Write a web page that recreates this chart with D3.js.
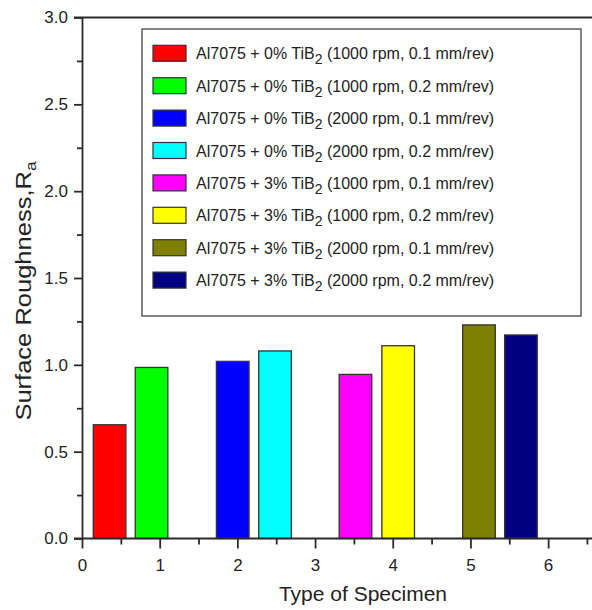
<!DOCTYPE html>
<html lang="en">
<head>
<meta charset="UTF-8">
<title>Surface Roughness bar chart</title>
<style>
  html, body { margin: 0; padding: 0; background: #fff; }
  svg { display: block; font-family: "Liberation Sans", Arial, sans-serif; }
  .axis path, .axis line { stroke: #2b2b2b; stroke-width: 1.8; }
  .axis text { fill: #222; font-size: 17px; }
</style>
</head>
<body>
<svg></svg>
<script src="https://cdn.jsdelivr.net/npm/d3@7"></script>
<script>
// series: TiB2 %, speed, feed
const labels = [
  ["0%", "1000 rpm, 0.1 mm/rev"],
  ["0%", "1000 rpm, 0.2 mm/rev"],
  ["0%", "2000 rpm, 0.1 mm/rev"],
  ["0%", "2000 rpm, 0.2 mm/rev"],
  ["3%", "1000 rpm, 0.1 mm/rev"],
  ["3%", "1000 rpm, 0.2 mm/rev"],
  ["3%", "2000 rpm, 0.1 mm/rev"],
  ["3%", "2000 rpm, 0.2 mm/rev"]
];
// x value (type of specimen) of each bar and its roughness Ra
const xValues = [0.355, 0.895, 1.94, 2.485, 3.52, 4.07, 5.11, 5.65];
const raValues = [0.655, 0.985, 1.02, 1.08, 0.945, 1.11, 1.23, 1.172];
const colors = ["#ff0000", "#00ff00", "#0000ff", "#00ffff", "#ff00ff", "#ffff00", "#808000", "#000080"];
const xTicks = [0, 1, 2, 3, 4, 5, 6];
const yTicks = [0, 0.5, 1.0, 1.5, 2.0, 2.5, 3.0];

const width = 592, height = 610;
const svg = d3.select("svg").attr("width", width).attr("height", height);

const x = d3.scaleLinear().domain([0, 6.565]).range([82, 592]);
const y = d3.scaleLinear().domain([0, 3]).range([538.5, 17.5]);
const barW = 0.42;

// top frame line
svg.append("line")
  .attr("x1", x(0) - 8).attr("x2", width)
  .attr("y1", y(3)).attr("y2", y(3))
  .attr("stroke", "#2b2b2b").attr("stroke-width", 1.8);

// bars
svg.append("g").selectAll("rect")
  .data(raValues)
  .join("rect")
  .attr("x", (d, i) => x(xValues[i] - barW / 2))
  .attr("width", (d, i) => x(xValues[i] + barW / 2) - x(xValues[i] - barW / 2))
  .attr("y", d => y(d))
  .attr("height", d => y(0) - y(d))
  .attr("fill", (d, i) => colors[i])
  .attr("stroke", "#333")
  .attr("stroke-width", 1.3);

// minor ticks
svg.append("g").attr("class", "axis")
  .attr("transform", `translate(${x(0)},0)`)
  .call(d3.axisLeft(y).tickValues(d3.range(0.25, 3, 0.5)).tickSize(5).tickFormat(""))
  .call(g => g.select(".domain").remove());
svg.append("g").attr("class", "axis")
  .attr("transform", `translate(0,${y(0)})`)
  .call(d3.axisBottom(x).tickValues(d3.range(0.5, 7, 1)).tickSize(6).tickFormat(""))
  .call(g => g.select(".domain").remove());

// major axes
svg.append("g").attr("class", "axis")
  .attr("transform", `translate(${x(0)},0)`)
  .call(d3.axisLeft(y).tickValues(yTicks).tickSize(8).tickSizeOuter(0).tickPadding(6).tickFormat(d3.format(".1f")));
svg.append("g").attr("class", "axis")
  .attr("transform", `translate(0,${y(0)})`)
  .call(d3.axisBottom(x).tickValues(xTicks).tickSize(10).tickSizeOuter(0).tickPadding(10).tickFormat(d3.format("d")))
  .call(g => g.select(".domain").attr("d", `M${x(0) - 8},0H${width}`));

// axis titles
svg.append("text")
  .attr("x", 363).attr("y", 601)
  .attr("text-anchor", "middle")
  .attr("font-size", 21).attr("fill", "#222")
  .text("Type of Specimen");

const yt = svg.append("text")
  .attr("transform", "translate(31,291) rotate(-90) scale(1.16,1)")
  .attr("text-anchor", "middle")
  .attr("font-size", 22).attr("fill", "#222");
yt.append("tspan").text("Surface Roughness,R");
yt.append("tspan").attr("font-size", 15).attr("dy", 5).text("a");

// legend
const legend = svg.append("g");
legend.append("rect")
  .attr("x", 142).attr("y", 29).attr("width", 439).attr("height", 287)
  .attr("fill", "#fff").attr("stroke", "#444").attr("stroke-width", 1.3);

const rowY = i => 53.3 + i * 32.4;
const items = legend.selectAll("g.item").data(labels).join("g").attr("class", "item");
items.append("rect")
  .attr("x", 153).attr("y", (d, i) => rowY(i) - 8)
  .attr("width", 33).attr("height", 16)
  .attr("fill", (d, i) => colors[i])
  .attr("stroke", "#333").attr("stroke-width", 1.2);
const lt = items.append("text")
  .attr("x", 196).attr("y", (d, i) => rowY(i) + 6)
  .attr("font-size", 16).attr("fill", "#222");
lt.append("tspan").text(d => `Al7075 + ${d[0]} TiB`);
lt.append("tspan").attr("font-size", 14).attr("dy", 5).text("2");
lt.append("tspan").attr("dy", -5).text(d => ` (${d[1]})`);
</script>
</body>
</html>
